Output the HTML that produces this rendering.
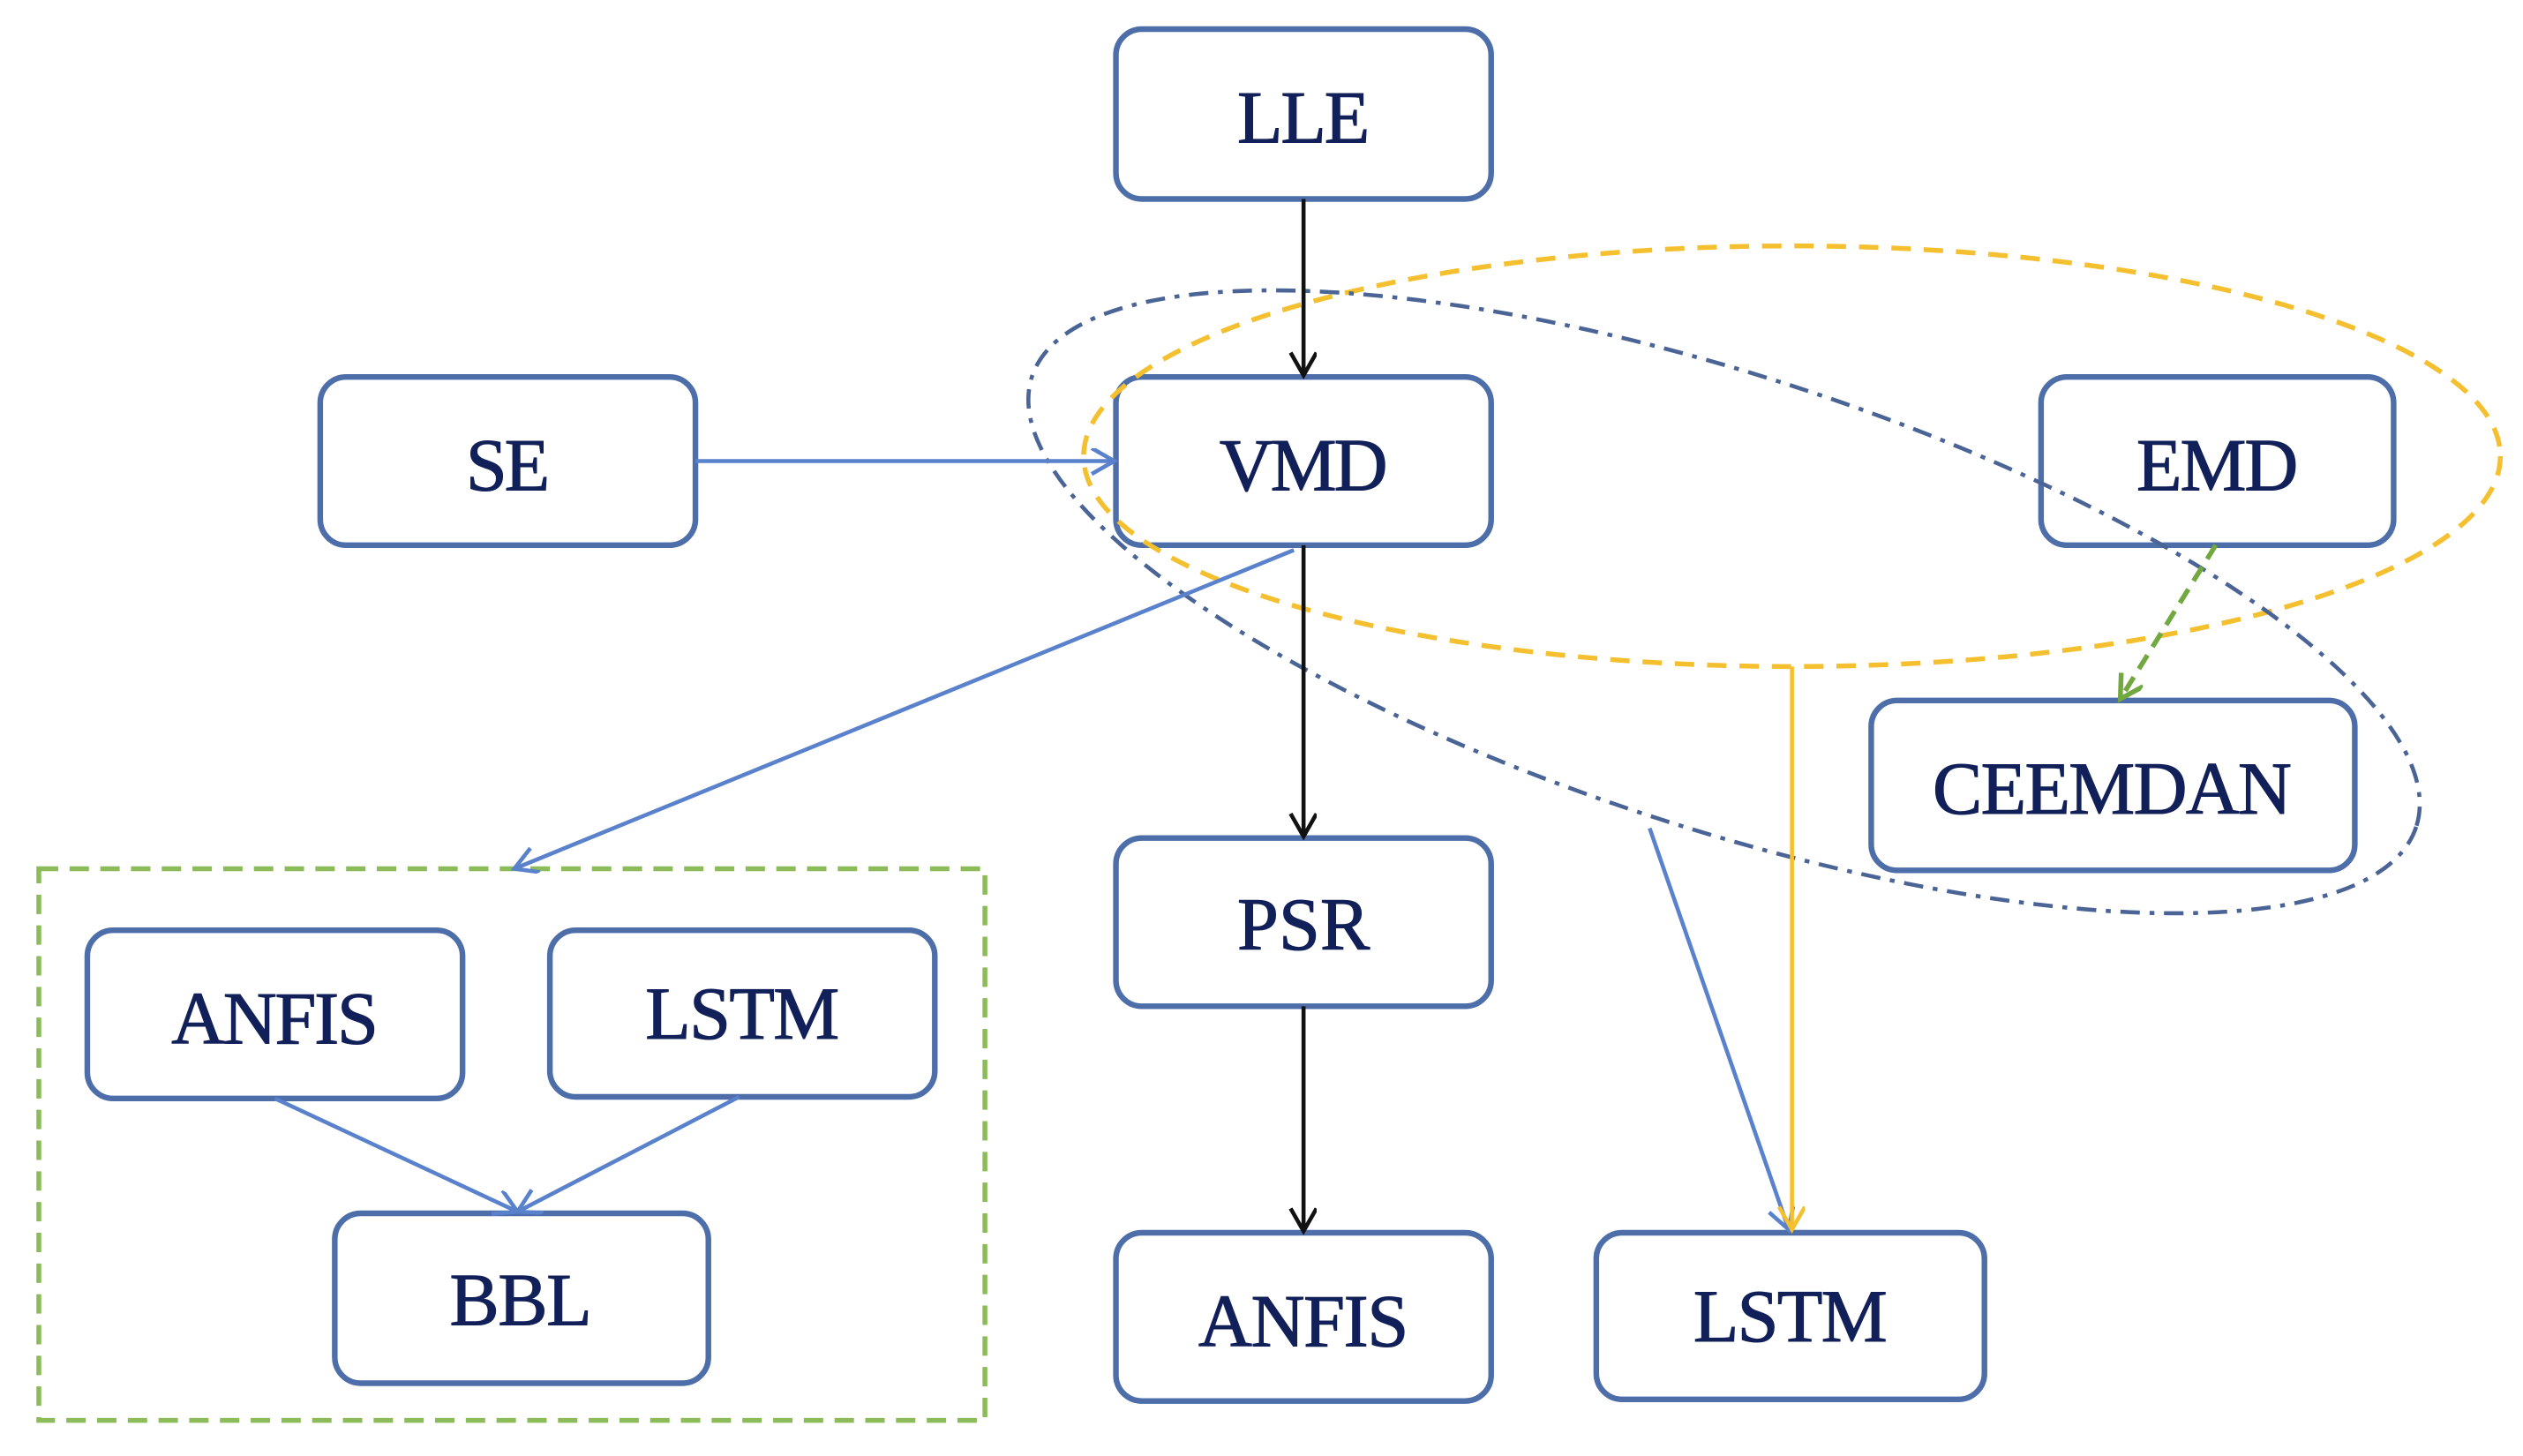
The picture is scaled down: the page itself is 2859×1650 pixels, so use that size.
<!DOCTYPE html>
<html><head><meta charset="utf-8"><style>
html,body{margin:0;padding:0;background:#fff;}
svg{display:block;}
text{font-family:"Liberation Serif","Times New Roman",Times,serif;font-size:46px;fill:#12205a;text-anchor:middle;dominant-baseline:central;stroke:#12205a;stroke-width:0.6;}
.b{fill:#fff;stroke:#4d6ea9;stroke-width:3.5;}
</style></head><body>
<svg width="2859" height="1650" viewBox="0 0 1560 900" preserveAspectRatio="none" xmlns="http://www.w3.org/2000/svg">
<defs>
<marker id="ak" markerWidth="20" markerHeight="20" refX="16" refY="8" orient="auto" markerUnits="userSpaceOnUse"><path d="M2,0 L16,8 L2,16" fill="none" stroke="#111" stroke-width="2.5"/></marker>
<marker id="ab" markerWidth="20" markerHeight="20" refX="16" refY="8" orient="auto" markerUnits="userSpaceOnUse"><path d="M2,0 L16,8 L2,16" fill="none" stroke="#5a82cc" stroke-width="2.5"/></marker>
<marker id="ay" markerWidth="20" markerHeight="20" refX="16" refY="8" orient="auto" markerUnits="userSpaceOnUse"><path d="M2,0 L16,8 L2,16" fill="none" stroke="#f4c030" stroke-width="2.5"/></marker>
<marker id="ag" markerWidth="20" markerHeight="20" refX="16" refY="8" orient="auto" markerUnits="userSpaceOnUse"><path d="M2,0 L16,8 L2,16" fill="none" stroke="#72a840" stroke-width="3"/></marker>
</defs>
<rect x="24" y="537" width="585" height="341" fill="none" stroke="#8cbc5a" stroke-width="3" stroke-dasharray="12,7"/>
<rect class="b" x="690" y="18" width="232" height="105" rx="16"/><text x="806" y="73" textLength="82">LLE</text>
<rect class="b" x="198" y="233" width="232" height="104" rx="16"/><text x="314" y="288" textLength="52">SE</text>
<rect class="b" x="690" y="233" width="232" height="104" rx="16"/><text x="806" y="288" textLength="104">VMD</text>
<rect class="b" x="1262" y="233" width="218" height="104" rx="16"/><text x="1371" y="288" textLength="100">EMD</text>
<rect class="b" x="1157" y="433" width="299" height="105" rx="16"/><text x="1306" y="488" textLength="222">CEEMDAN</text>
<rect class="b" x="690" y="518" width="232" height="104" rx="16"/><text x="806" y="572" textLength="82">PSR</text>
<rect class="b" x="690" y="762" width="232" height="104" rx="16"/><text x="806" y="817" textLength="130">ANFIS</text>
<rect class="b" x="987" y="762" width="240" height="103" rx="16"/><text x="1107" y="814" textLength="120">LSTM</text>
<rect class="b" x="54" y="575" width="232" height="104" rx="16"/><text x="170" y="630" textLength="128">ANFIS</text>
<rect class="b" x="340" y="575" width="238" height="103" rx="16"/><text x="459" y="627" textLength="120">LSTM</text>
<rect class="b" x="207" y="750" width="231" height="105" rx="16"/><text x="322" y="804" textLength="88">BBL</text>
<ellipse cx="1108" cy="282" rx="438" ry="130" fill="none" stroke="#f4c030" stroke-width="3" stroke-dasharray="12,8"/>
<ellipse cx="1066" cy="372" rx="450" ry="140" transform="rotate(18 1066 372)" fill="none" stroke="#4a6496" stroke-width="2.5" stroke-dasharray="12,6,3,6"/>
<line x1="806" y1="123" x2="806" y2="232" stroke="#111" stroke-width="2.5" marker-end="url(#ak)"/>
<line x1="806" y1="337" x2="806" y2="517" stroke="#111" stroke-width="2.5" marker-end="url(#ak)"/>
<line x1="806" y1="622" x2="806" y2="761" stroke="#111" stroke-width="2.5" marker-end="url(#ak)"/>
<line x1="430" y1="285" x2="689" y2="285" stroke="#5a82cc" stroke-width="2.5" marker-end="url(#ab)"/>
<line x1="800" y1="340" x2="318" y2="537" stroke="#5a82cc" stroke-width="2.5" marker-end="url(#ab)"/>
<line x1="170" y1="679" x2="320" y2="749" stroke="#5a82cc" stroke-width="2.5" marker-end="url(#ab)"/>
<line x1="457" y1="678" x2="320" y2="749" stroke="#5a82cc" stroke-width="2.5" marker-end="url(#ab)"/>
<line x1="1020" y1="512" x2="1106" y2="760" stroke="#5a82cc" stroke-width="2.5" marker-end="url(#ab)"/>
<line x1="1108" y1="412" x2="1108" y2="760" stroke="#f4c030" stroke-width="2.5" marker-end="url(#ay)"/>
<line x1="1370" y1="337" x2="1311" y2="432" stroke="#72a840" stroke-width="3" stroke-dasharray="10,6" marker-end="url(#ag)"/>
</svg>
</body></html>
